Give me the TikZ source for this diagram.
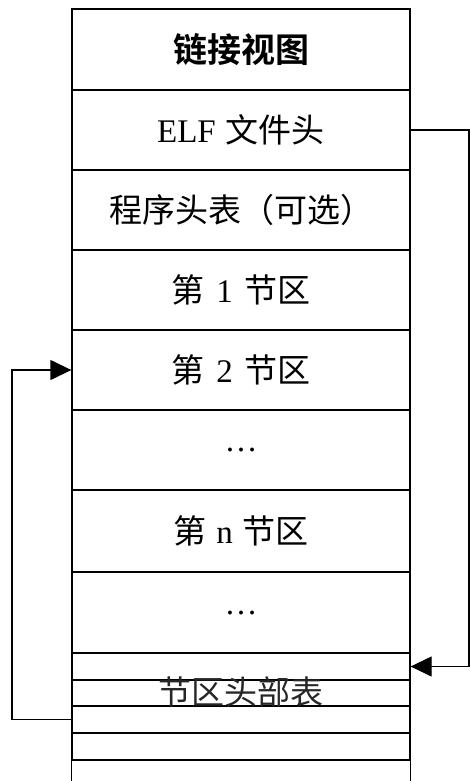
\documentclass[tikz,border=0pt]{standalone}
\usepackage{fontspec}
\setmainfont{Liberation Serif}
\newfontfamily\cjk[BoldFont={Noto Sans CJK SC Bold}]{Noto Sans CJK SC}
\usetikzlibrary{arrows.meta}
\begin{document}
\begin{tikzpicture}[x=1pt,y=-1pt,
  row/.style={draw=black,line width=1.3pt,minimum width=338pt,inner sep=0pt,
    font=\fontsize{33}{38}\selectfont},
  lbl/.style={inner sep=0pt,font=\fontsize{33}{38}\selectfont},
  conn/.style={line width=1.3pt},
  tip/.style={-{Triangle[length=21pt,width=20pt]}}]
\useasboundingbox (0,0) rectangle (470,781);
\node[row,minimum height=81pt,font=\fontsize{34}{40}\selectfont\bfseries] (r0) at (241,49.5) {\cjk 链接视图};
\node[row,minimum height=80pt] (r1) at (241,130) {ELF\hspace{10pt}{\cjk 文件头}};
\node[row,minimum height=80pt] (r2) at (241,210) {\cjk 程序头表（可选）};
\node[row,minimum height=80pt] (r3) at (241,290) {{\cjk 第}\hspace{12pt}1\hspace{12pt}{\cjk 节区}};
\node[row,minimum height=80pt] (r4) at (241,370) {{\cjk 第}\hspace{12pt}2\hspace{12pt}{\cjk 节区}};
\node[row,minimum height=80pt] (r5) at (241,450) {\raisebox{-4pt}{…}};
\node[row,minimum height=82pt] (r6) at (241,531) {{\cjk 第}\hspace{10pt}n\hspace{10pt}{\cjk 节区}};
\node[row,minimum height=81pt] (r7) at (241,612.5) {\raisebox{-4pt}{…}};
\node[row,minimum height=27pt] (s1) at (241,666.5) {};
\node[row,minimum height=26pt] (s2) at (241,693) {};
\node[row,minimum height=27pt] (s3) at (241,719.5) {};
\node[row,minimum height=27pt] (s4) at (241,746.5) {};
\node[inner sep=0pt,minimum width=338pt,minimum height=21pt] (s5) at (241,770.5) {};
\draw[conn] (s5.south west) -- (s5.north west) -- (s5.north east) -- (s5.south east);
\node[lbl,text=black!85] (sht) at (241,692) {\cjk 节区头部表};
\coordinate (rc) at (469,0);
\draw[conn,tip] (r1.east) -- (r1.east -| rc) -- (s1.east -| rc) -- (s1.east);
\coordinate (lc) at (12,0);
\draw[conn,tip] (s3.west) -- (s3.west -| lc) -- (r4.west -| lc) -- (r4.west);
\end{tikzpicture}
\end{document}
